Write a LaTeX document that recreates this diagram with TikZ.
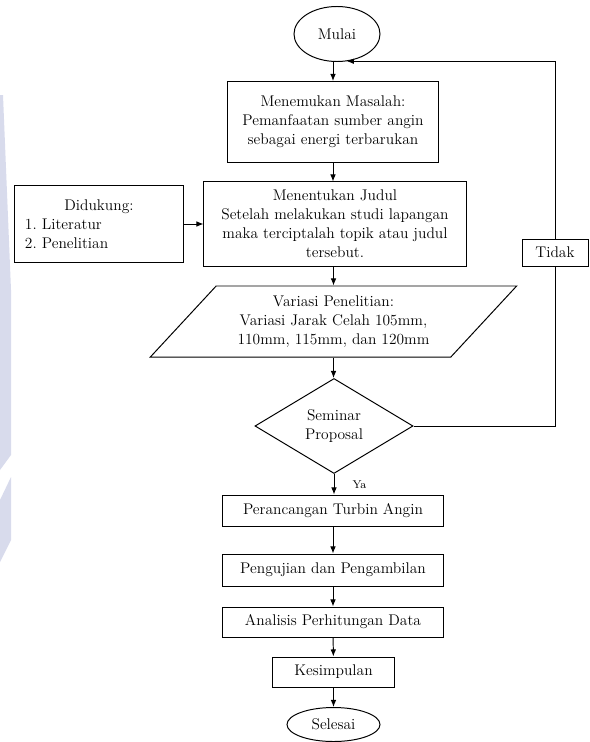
\documentclass[tikz,border=0pt]{standalone}
\usepackage{xcolor}
\usepackage{tikz}
\usetikzlibrary{
	arrows.meta,
	shapes.geometric
	}
\definecolor{wmark}{RGB}{216,219,236}

\begin{document}
\begin{tikzpicture}[x=0.025cm,y=-0.025cm,font=\fontsize{11}{13.6}\selectfont,line width=0.7pt,
	kotak/.style={draw,rectangle,align=center,inner sep=2pt},
	oval/.style={draw,ellipse,inner sep=0pt},
	panah/.style={-{Latex[length=5pt,width=4pt]}}]
	\useasboundingbox (0,0) rectangle (590,742);
	% watermark kiri
	\fill[wmark] (0,95) -- (3,95) -- (11,290) -- (11,455) -- (0,470) -- cycle;
	\fill[wmark] (0,500) -- (11,477) -- (11,540) -- (0,562) -- cycle;
	% alur utama
	\node[oval,minimum width=2.15cm,minimum height=1.375cm] (mulai) at (337,34) {Mulai};
	\node[kotak,minimum width=5.25cm,minimum height=2.025cm] (masalah) at (333,122) {Menemukan Masalah:\\Pemanfaatan sumber angin\\sebagai energi terbarukan};
	\node[kotak,minimum width=6.55cm,minimum height=2.1cm] (judul) at (335,224) {Menentukan Judul\\Setelah melakukan studi lapangan\\maka terciptalah topik atau judul\\tersebut.};
	\node[draw,rectangle,align=left,text width=3.7cm,inner xsep=0.25cm,minimum height=1.9cm] (dukung) at (99,224) {\makebox[\linewidth][c]{Didukung:}\\1.~Literatur\\2.~Penelitian};
	\node[draw,trapezium,trapezium left angle=44,trapezium right angle=136,trapezium stretches=true,align=center,inner sep=0pt,minimum width=9.175cm,minimum height=1.775cm] (variasi) at (333.5,321.5) {Variasi Penelitian:\\Variasi Jarak Celah 105mm,\\110mm, 115mm, dan 120mm};
	\node[draw,diamond,align=center,inner sep=0pt,minimum width=3.95cm,minimum height=2.375cm] (seminar) at (334,426) {Seminar\\Proposal};
	\node[kotak,minimum width=1.65cm,minimum height=0.675cm] (tidak) at (555,252.5) {Tidak};
	\node[kotak,minimum width=5.5cm,minimum height=0.775cm] (rancang) at (333,510.5) {Perancangan Turbin Angin};
	\node[kotak,minimum width=5.5cm,minimum height=0.8cm] (uji) at (333,570) {Pengujian dan Pengambilan};
	\node[kotak,minimum width=5.5cm,minimum height=0.75cm] (analisis) at (333,622) {Analisis Perhitungan Data};
	\node[kotak,minimum width=3.025cm,minimum height=0.75cm] (simpul) at (333.5,672) {Kesimpulan};
	\node[oval,minimum width=2.325cm,minimum height=0.85cm] (selesai) at (333.5,724.5) {Selesai};
	% panah
	\draw[panah] (mulai.south -| masalah.north) -- (masalah.north);
	\draw[panah] (masalah.south) -- (masalah.south |- judul.north);
	\draw[panah] (dukung.east) -- (dukung.east -| judul.west);
	\draw[panah] (judul.south -| variasi.north) -- (variasi.north);
	\draw[panah] (variasi.south) -- (variasi.south |- seminar.north);
	\draw[panah] (seminar.south) -- (seminar.south |- rancang.north) node[midway,right=0.45cm,inner sep=0pt,font=\footnotesize]{Ya};
	\draw[panah] (rancang) -- (uji);
	\draw[panah] (uji) -- (analisis);
	\draw[panah] (analisis) -- (simpul);
	\draw[panah] (simpul.south -| selesai.north) -- (selesai.north);
	\draw (seminar.east) -| (tidak.south);
	\draw[panah] (tidak.north) |- (mulai.-70);
\end{tikzpicture}
\end{document}
